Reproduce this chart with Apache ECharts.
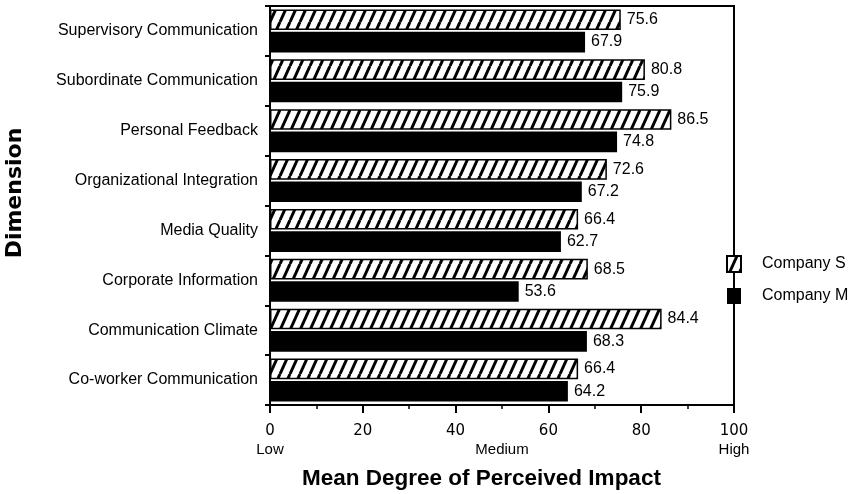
<!DOCTYPE html>
<html>
<head>
<meta charset="utf-8">
<script src="https://cdn.jsdelivr.net/npm/echarts@6/dist/echarts.min.js"></script>
<style>
  html, body { margin: 0; padding: 0; background: #fff; }
  #chart { width: 863px; height: 494px; }
</style>
</head>
<body>
<div id="chart"></div>
<script>
// Dimensions of communication, listed top to bottom
const categories = [
  'Supervisory Communication',
  'Subordinate Communication',
  'Personal Feedback',
  'Organizational Integration',
  'Media Quality',
  'Corporate Information',
  'Communication Climate',
  'Co-worker Communication'
];
const companyS = [75.6, 80.8, 86.5, 72.6, 66.4, 68.5, 84.4, 66.4];
const companyM = [67.9, 75.9, 74.8, 67.2, 62.7, 53.6, 68.3, 64.2];
const seriesNames = ['Company S', 'Company M'];
const scaleWords = { 0: 'Low', 50: 'Medium', 100: 'High' };

const sansFont = '"Liberation Sans", Arial, Helvetica, sans-serif';

// Diagonal "/" hatch tile for the Company S bars
function makeHatch() {
  const w = 10, h = 22;
  const c = document.createElement('canvas');
  c.width = w; c.height = h;
  const g = c.getContext('2d');
  g.fillStyle = '#fff';
  g.fillRect(0, 0, w, h);
  g.strokeStyle = '#000';
  g.lineWidth = 3;
  for (let k = -1; k <= 1; k++) {
    g.beginPath();
    g.moveTo(k * w, h);
    g.lineTo(k * w + w, 0);
    g.stroke();
  }
  return c;
}
const hatch = { image: makeHatch(), repeat: 'repeat' };

const chart = echarts.init(document.getElementById('chart'), null, { renderer: 'canvas' });

const valueLabel = {
  show: true,
  position: 'right',
  distance: 6,
  color: '#000',
  fontSize: 16,
  fontFamily: sansFont,
  formatter: p => p.value.toFixed(1)
};

chart.setOption({
  animation: false,
  backgroundColor: '#fff',
  grid: {
    left: 270, right: 129, top: 6, bottom: 89,
    show: true, borderColor: '#000', borderWidth: 2, backgroundColor: 'transparent'
  },
  legend: {
    data: seriesNames,
    orient: 'vertical',
    left: 721,
    top: 250,
    itemWidth: 14,
    itemHeight: 16,
    itemGap: 15,
    icon: 'rect',
    textStyle: { color: '#000', fontSize: 16, fontFamily: sansFont, padding: [0, 0, 0, 16] }
  },
  xAxis: [
    {
      type: 'value',
      min: 0, max: 100, interval: 20,
      axisLine: { show: true, lineStyle: { color: '#000', width: 2 } },
      axisTick: { show: true, length: 8, lineStyle: { color: '#000', width: 2 } },
      minorTick: { show: true, splitNumber: 2, length: 4, lineStyle: { color: '#000', width: 1.5 } },
      splitLine: { show: false },
      axisLabel: { color: '#000', fontSize: 15, fontFamily: '"DejaVu Sans", sans-serif', margin: 19 }
    },
    {
      type: 'value',
      position: 'bottom',
      offset: 18,
      min: 0, max: 100, interval: 50,
      axisLine: { show: false },
      axisTick: { show: false },
      splitLine: { show: false },
      axisLabel: {
        color: '#000', fontSize: 15, fontFamily: sansFont, margin: 19,
        formatter: v => scaleWords[v] || ''
      }
    }
  ],
  yAxis: {
    type: 'category',
    inverse: true,
    data: categories,
    axisLine: { show: true, lineStyle: { color: '#000', width: 2 } },
    axisTick: { show: true, length: 5, lineStyle: { color: '#000', width: 2 } },
    axisLabel: { color: '#000', fontSize: 16, fontFamily: sansFont, margin: 12 }
  },
  graphic: [
    {
      type: 'text',
      x: 15, y: 193,
      rotation: Math.PI / 2,
      style: {
        text: 'Dimension',
        fill: '#000',
        font: 'bold 22px "DejaVu Sans", sans-serif',
        textAlign: 'center',
        textVerticalAlign: 'middle'
      }
    },
    {
      type: 'text',
      left: 302, top: 467,
      style: {
        text: 'Mean Degree of Perceived Impact',
        fill: '#000',
        font: 'bold 22.5px ' + sansFont
      }
    }
  ],
  series: [
    {
      name: seriesNames[0],
      type: 'bar',
      data: companyS,
      barCategoryGap: '14%',
      barGap: '8%',
      itemStyle: { color: hatch, borderColor: '#000', borderWidth: 1.5 },
      label: valueLabel
    },
    {
      name: seriesNames[1],
      type: 'bar',
      data: companyM,
      itemStyle: { color: '#000' },
      label: valueLabel
    }
  ]
});
</script>
</body>
</html>
